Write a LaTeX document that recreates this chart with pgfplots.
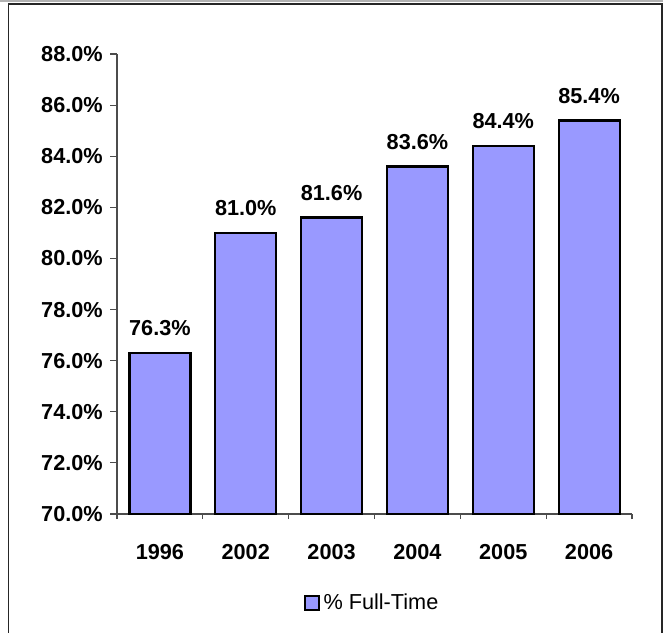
\documentclass[border=0pt]{standalone}
\usepackage{pgfplots}
\pgfplotsset{compat=1.18}
\usepackage{fontspec}
\setmainfont{Liberation Sans}
\definecolor{barblue}{HTML}{9999FF}

\begin{document}
\begin{tikzpicture}
  % 1 px of the reference = 0.6pt
  \useasboundingbox (0pt,0pt) rectangle (397.8pt,379.2pt);
  \clip (0pt,0pt) rectangle (397.8pt,379.2pt);
  % chart frame (bottom runs off the picture)
  \fill[black!30] (0pt,377.7pt) rectangle (397.8pt,379.2pt);
  \draw[black!85, line width=1.1pt] (5.1pt,-12pt) rectangle (397.2pt,376.8pt);

  \begin{axis}[
    at={(70.2pt,70.8pt)}, anchor=south west,
    scale only axis,
    width=309pt, height=276pt,
    ybar, bar width=36.6pt,
    xmin=-0.5, xmax=5.5,
    ymin=70, ymax=88,
    enlargelimits=false,
    axis x line*=bottom, axis y line*=left,
    axis line style={black!70, line width=0.7pt},
    tick align=outside,
    tick style={black!70, line width=0.7pt},
    xtick={0,...,5},
    xticklabels={1996,2002,2003,2004,2005,2006},
    minor xtick={-0.5,0.5,...,5.5},
    major x tick style={draw=none},
    minor tick length=3pt,
    major tick length=4.2pt,
    ytick={70,72,...,88},
    yticklabel={\pgfmathprintnumber[fixed,fixed zerofill,precision=1,assume math mode=true]{\tick}\%},
    ticklabel style={font=\fontsize{13}{15}\selectfont\bfseries},
    yticklabel style={anchor=east, inner sep=0pt, xshift=-4.2pt},
    xticklabel style={anchor=north, inner sep=0pt, yshift=-14pt},
    nodes near coords={\pgfmathprintnumber[fixed,fixed zerofill,precision=1,assume math mode=true]{\pgfplotspointmeta}\%},
    nodes near coords style={font=\fontsize{13}{15}\selectfont\bfseries, anchor=south, inner sep=0pt, yshift=9.5pt},
    legend style={draw=none, fill=none, at={(axis description cs:0.497,-0.193)}, anchor=center,
      font=\fontsize{13}{15}\selectfont},
    legend image code/.code={\draw[fill=barblue, draw=black, line width=1.2pt] (0pt,-4.2pt) rectangle (8.4pt,4.2pt);},
  ]
    \addplot[fill=barblue, draw=black, line width=1.3pt] coordinates {
      (0,76.3) (1,81.0) (2,81.6) (3,83.6) (4,84.4) (5,85.4)
    };
    \addlegendentry{\% Full-Time}
  \end{axis}
\end{tikzpicture}
\end{document}
